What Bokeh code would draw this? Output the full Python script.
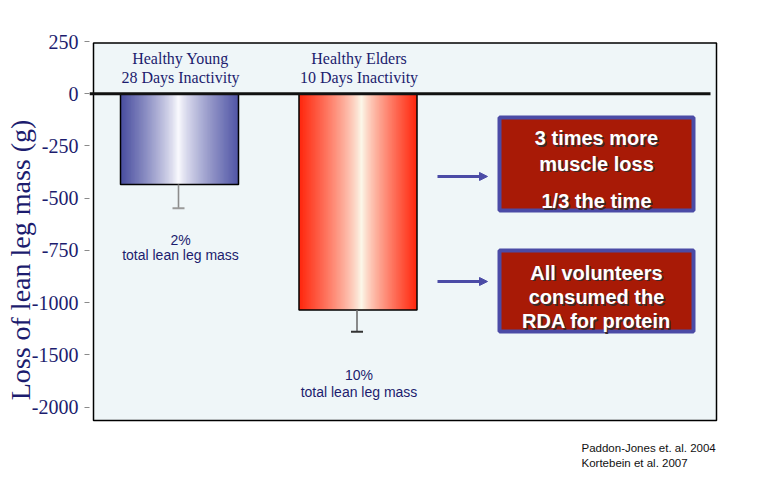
import numpy as np
from bokeh.plotting import figure
from bokeh.models import Range1d, FixedTicker, Arrow, NormalHead
from bokeh.embed import file_html
from bokeh.resources import INLINE
from bokeh.core.properties import value

# ---------------- data ----------------
groups = ["Healthy Young\n28 Days Inactivity", "Healthy Elders\n10 Days Inactivity"]
loss = [-435, -1070]          # mean loss of lean leg mass (g)
err_low = [-548, -1280]       # lower end of error bar (g)
pct_labels = ["2%\ntotal lean leg mass", "10%\ntotal lean leg mass"]
tick_values = [250, 0, -250, -500, -750, -1000, -1500, -2000]
tick_labels = ["250", "0", "-250", "-500", "-750", "-1000", "-1500", "-2000"]
box_texts = [["3 times more", "muscle loss", "1/3 the time"],
             ["All volunteers", "consumed the", "RDA for protein"]]
citations = ["Paddon-Jones et. al. 2004", "Kortebein et al. 2007"]


def to_axis(v):
    """Axis is linear to -1000, then each step of 250 spacing represents 500 g."""
    v = np.asarray(v, dtype=float)
    return np.where(v < -1000, -1000 + (v + 1000) / 2.0, v)


NAVY = "#1c1c6e"
SERIF = "Liberation Serif"
SANS = "Liberation Sans"

p = figure(width=758, height=485, output_backend="svg", toolbar_location=None,
           x_range=Range1d(0, 664), y_range=Range1d(-1852, 260),
           x_axis_location=None,
           min_border_left=89, min_border_right=5, min_border_top=39, min_border_bottom=5)
p.grid.visible = False
p.outline_line_color = None
p.background_fill_color = "white"
p.border_fill_color = "white"

# y axis
ax = p.yaxis[0]
ax.ticker = FixedTicker(ticks=[float(t) for t in to_axis(tick_values)])
ax.major_label_overrides = {float(t): lab for t, lab in zip(to_axis(tick_values), tick_labels)}
ax.axis_line_color = None
ax.major_tick_line_color = "#8a8a8a"
ax.major_tick_out = 5
ax.major_tick_in = 0
ax.minor_tick_line_color = None
ax.major_label_text_font = SERIF
ax.major_label_text_font_size = "20px"
ax.major_label_text_color = NAVY
ax.major_label_standoff = 6
ax.axis_label = "Loss of lean leg mass (g)"
ax.axis_label_text_font = SERIF
ax.axis_label_text_font_size = "28px"
ax.axis_label_text_font_style = "normal"
ax.axis_label_text_color = NAVY
ax.axis_label_standoff = -7

# plot panel background
p.quad(left=4, right=627, top=243, bottom=-1565, fill_color="#eff6f8",
       line_color="black", line_width=1.5)

# bars with horizontal gradient
centers = [90, 268.5]
bar_w = 118
edge_cols = [((0x48, 0x4d, 0x9f), (0x50, 0x55, 0xa5)), ((0xff, 0x26, 0x0c), (0xff, 0x26, 0x0c))]
mid_cols = [(0xfc, 0xfc, 0xff), (0xfc, 0xfa, 0xec)]
mid_pos = [0.49, 0.53]
nsl = 90
for i in range(2):
    left = centers[i] - bar_w / 2
    ls, rs, cols = [], [], []
    for k in range(nsl):
        t = (k + 0.5) / nsl
        if t < mid_pos[i]:
            f = (mid_pos[i] - t) / mid_pos[i]
            e = edge_cols[i][0]
        else:
            f = (t - mid_pos[i]) / (1 - mid_pos[i])
            e = edge_cols[i][1]
        f = f ** 0.8
        c = tuple(int(round(m + (ee - m) * f)) for m, ee in zip(mid_cols[i], e))
        cols.append("#%02x%02x%02x" % c)
        ls.append(left + k * bar_w / nsl)
        rs.append(min(left + (k + 1) * bar_w / nsl + 1.0, left + bar_w))
    bottom = float(to_axis([loss[i]])[0])
    p.quad(left=ls, right=rs, top=0, bottom=bottom, fill_color=cols, line_color=None)
    p.quad(left=left, right=left + bar_w, top=0, bottom=bottom, fill_color=None,
           line_color="black", line_width=1.5)

# error bars
ybar = to_axis(loss)
yerr = to_axis(err_low)
err_cols = ["#8c8c8c", "#6f6f6f"]
cap_cols = ["#9a9a9a", "#333333"]
for i in range(2):
    x = centers[i] - 1
    p.segment(x0=x, y0=ybar[i], x1=x, y1=yerr[i], line_color=err_cols[i], line_width=1.6)
    p.segment(x0=x - 6, y0=yerr[i], x1=x + 6, y1=yerr[i], line_color=cap_cols[i], line_width=2)

# zero line
p.segment(x0=0, y0=0, x1=621, y1=0, line_color="#111111", line_width=3)

# group titles
for i, g in enumerate(groups):
    l1, l2 = g.split("\n")
    p.text(x=[centers[i] + 1] * 2, y=[169, 78], text=[l1, l2], text_align="center",
           text_baseline="middle", text_font=value(SERIF), text_font_size="16px",
           text_color=NAVY)

# percentage labels
pct_y = [[-698, -774], [-1349, -1430]]
for i, s in enumerate(pct_labels):
    l1, l2 = s.split("\n")
    p.text(x=[centers[i] + 1] * 2, y=pct_y[i], text=[l1, l2], text_align="center",
           text_baseline="middle", text_font=value(SANS), text_font_size="14px",
           text_color=NAVY)

# callout boxes and arrows
BLUE = "#4b4ba6"
boxes = [(-113, -559), (-751, -1138)]
arrow_y = [-396, -899]
text_y = [[-213, -334, -514], [-856, -974, -1089]]
for i in range(2):
    p.quad(left=410, right=604, top=boxes[i][0], bottom=boxes[i][1], fill_color="#a81a06",
           line_color=BLUE, line_width=4)
    p.add_layout(Arrow(end=NormalHead(size=8, fill_color=BLUE, line_color=BLUE),
                       x_start=348, y_start=arrow_y[i], x_end=398, y_end=arrow_y[i],
                       line_color=BLUE, line_width=3))
    for dx, col in ((1.5, "#3a2a2a"), (0, "white")):
        p.text(x=[507] * 3, y=text_y[i], text=box_texts[i], text_align="center",
               text_baseline="middle", text_font=value(SANS), text_font_size="20px",
               text_font_style="bold", text_color=col, x_offset=dx, y_offset=dx)

# citations (below the panel)
p.text(x=[492, 492], y=[-1694, -1766], text=citations, text_align="left",
       text_baseline="middle", text_font=value(SANS), text_font_size="11.5px",
       text_color="#111111")

open("out.html", "w").write(file_html(p, INLINE))
